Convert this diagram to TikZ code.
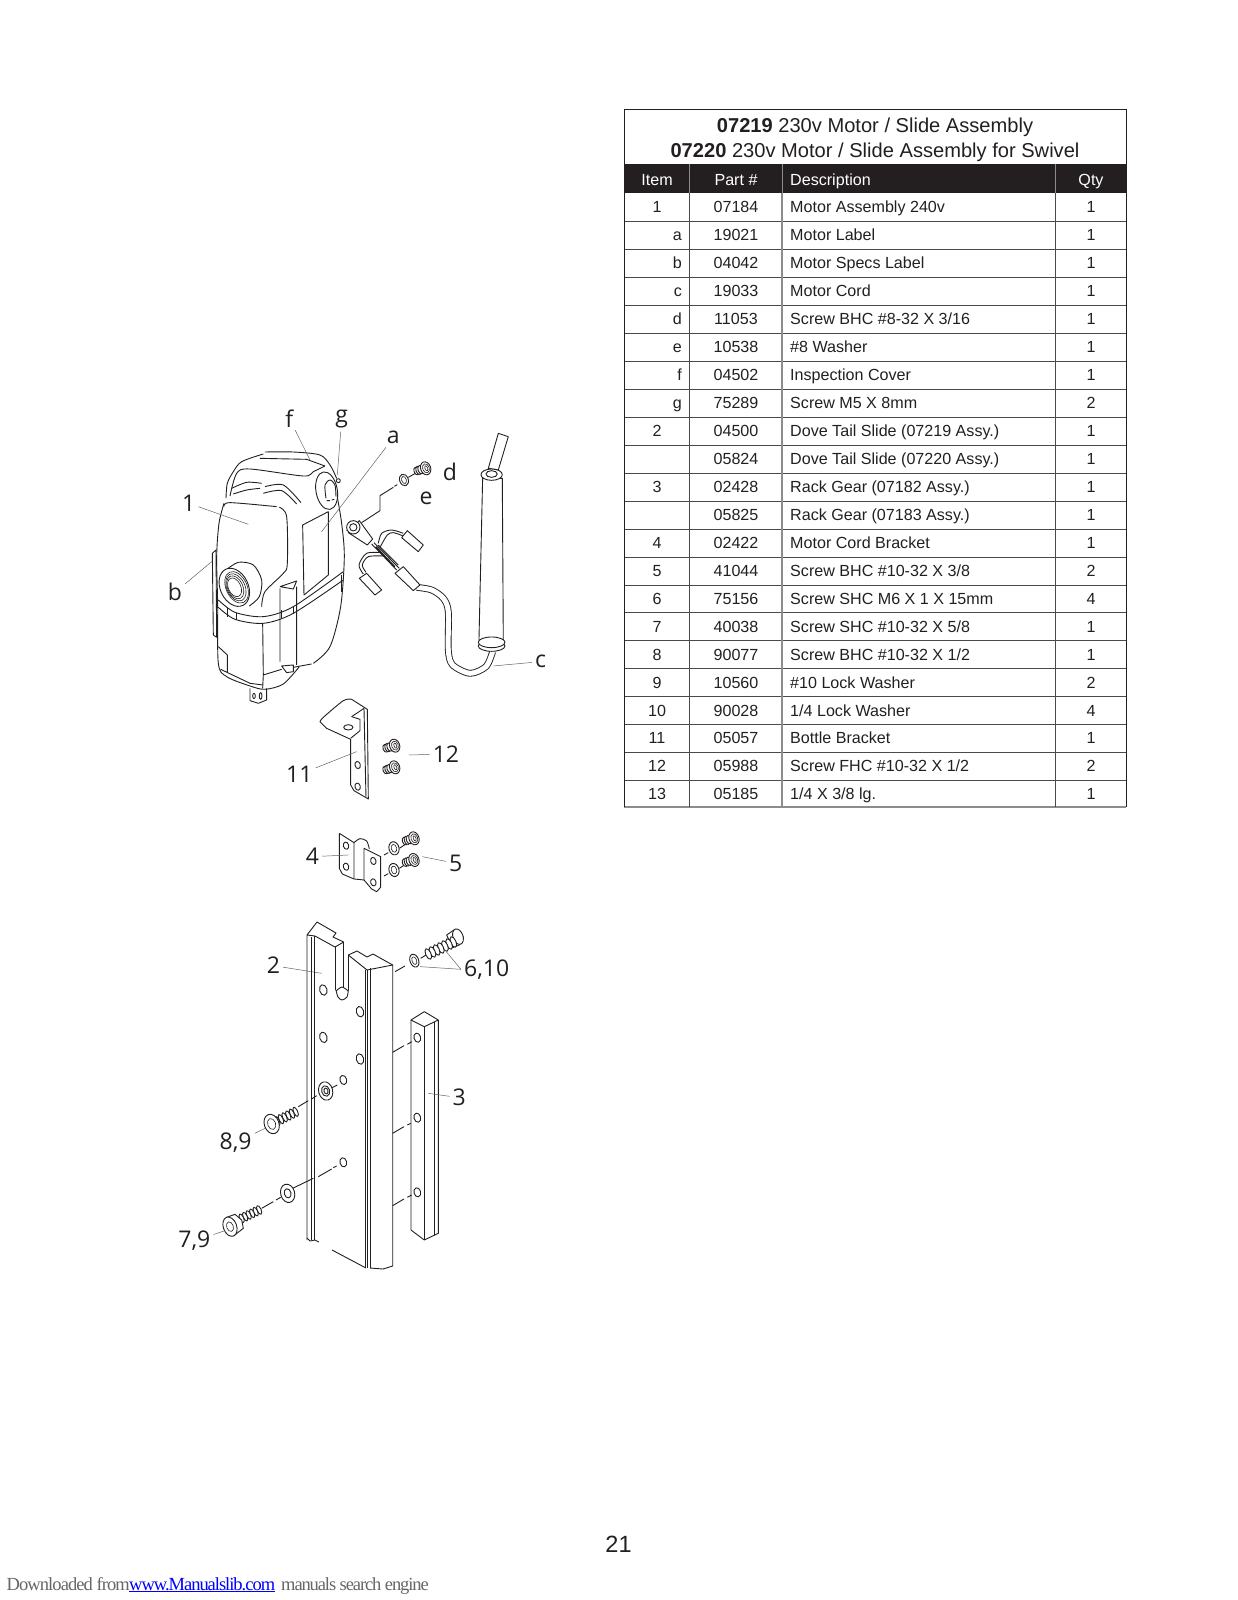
\documentclass[tikz,border=0pt]{standalone}
\usepackage{fontspec}
\setmainfont{Liberation Sans}
\newfontfamily\calloutfont{Open Sans}
\newfontfamily\footerfont[LetterSpace=-5.0]{Liberation Serif}
\newfontfamily\linkfont[LetterSpace=-5.5]{Liberation Serif}
\newfontfamily\enginefont[LetterSpace=-6.0]{Liberation Serif}
\definecolor{inkblack}{HTML}{231F20}
\definecolor{rowline}{HTML}{4A4A4A}
\definecolor{colline}{HTML}{8C8C8C}
\tikzset{
    part/.style = {line width=0.9pt, draw=inkblack, line join=round},
    thinpart/.style = {line width=0.6pt, draw=inkblack},
    leader/.style = {line width=0.5pt, draw=inkblack!70},
    gapline/.style = {line width=0.8pt, draw=inkblack, dash pattern=on 7pt off 2pt on 2pt off 2pt},
    callout/.style = {font=\calloutfont\fontsize{23}{23}\selectfont, text=inkblack, inner sep=3pt},
    cell/.style = {font=\fontsize{16.1}{18}\selectfont, text=inkblack, inner sep=0pt, anchor=base},
    headcell/.style = {font=\fontsize{16.1}{18}\selectfont, text=white, inner sep=0pt, anchor=base},
    titletext/.style = {font=\fontsize{20.1}{22}\selectfont, text=inkblack, inner sep=0pt, anchor=base},
    viewA/.style = {shift={(150,390)}, x=0.3333pt, y=-0.3333pt},
    viewB/.style = {shift={(260,680)}, x=0.3333pt, y=-0.3333pt},
    viewC/.style = {shift={(170,980)}, x=0.3333pt, y=-0.3333pt}
}
% one line of the parts list: row name, baseline, item, part, description, qty
\newcommand{\partrow}[6]{
    \node (#1item) [cell] at (657,#2) {#3};
    \node (#1part) [cell] at (736,#2) {#4};
    \node (#1desc) [cell, anchor=base west] at (790,#2) {#5};
    \node (#1qty) [cell] at (1091,#2) {#6};
}
\newcommand{\subrow}[6]{
    \node (#1item) [cell, anchor=base east] at (682,#2) {#3};
    \node (#1part) [cell] at (736,#2) {#4};
    \node (#1desc) [cell, anchor=base west] at (790,#2) {#5};
    \node (#1qty) [cell] at (1091,#2) {#6};
}
% small screw, head on the right
\newcommand{\smallscrew}[1]{
    \begin{scope}[shift={#1}]
    \draw[part, fill=white] (-20,8) ellipse [x radius=8, y radius=12, rotate=20];
    \draw[part, fill=white] (-14,6) ellipse [x radius=8, y radius=13, rotate=20];
    \draw[part, fill=white] (-8,4) ellipse [x radius=8, y radius=13, rotate=20];
    \draw[part, fill=white] (7,0) ellipse [x radius=15, y radius=20, rotate=20];
    \draw[thinpart] (8,0) ellipse [x radius=10, y radius=14, rotate=20];
    \draw[thinpart] (9,0) ellipse [x radius=4, y radius=8, rotate=20];
    \end{scope}
}
\begin{document}
\begin{tikzpicture}[x=1pt, y=-1pt]
\useasboundingbox (0,0) rectangle (1237,1600);

% parts list
\fill[inkblack] (624,164) rectangle (1126,193);
\node (titleA) [titletext] at (875,132) {\textbf{07219} 230v Motor / Slide Assembly};
\node (titleB) [titletext] at (875,157.5) {\textbf{07220} 230v Motor / Slide Assembly for Swivel};
\node (headItem) [headcell] at (657,185) {Item};
\node (headPart) [headcell] at (736,185) {Part \#};
\node (headDesc) [headcell, anchor=base west] at (790,185) {Description};
\node (headQty) [headcell] at (1091,185) {Qty};
\partrow{a}{212.5}{1}{07184}{Motor Assembly 240v}{1}
\subrow{b}{240.5}{a}{19021}{Motor Label}{1}
\subrow{c}{268.5}{b}{04042}{Motor Specs Label}{1}
\subrow{d}{296.5}{c}{19033}{Motor Cord}{1}
\subrow{e}{324.5}{d}{11053}{Screw BHC \#8-32 X 3/16}{1}
\subrow{f}{352.5}{e}{10538}{\#8 Washer}{1}
\subrow{g}{380.5}{f}{04502}{Inspection Cover}{1}
\subrow{h}{408.5}{g}{75289}{Screw M5 X 8mm}{2}
\partrow{i}{436.5}{2}{04500}{Dove Tail Slide (07219 Assy.)}{1}
\partrow{j}{464.5}{}{05824}{Dove Tail Slide (07220 Assy.)}{1}
\partrow{k}{492.5}{3}{02428}{Rack Gear (07182 Assy.)}{1}
\partrow{l}{520.5}{}{05825}{Rack Gear (07183 Assy.)}{1}
\partrow{m}{548.5}{4}{02422}{Motor Cord Bracket}{1}
\partrow{n}{576.5}{5}{41044}{Screw BHC \#10-32 X 3/8}{2}
\partrow{o}{604}{6}{75156}{Screw SHC M6 X 1 X 15mm}{4}
\partrow{p}{632}{7}{40038}{Screw SHC \#10-32 X 5/8}{1}
\partrow{q}{660}{8}{90077}{Screw BHC \#10-32 X 1/2}{1}
\partrow{r}{688}{9}{10560}{\#10 Lock Washer}{2}
\partrow{s}{716}{10}{90028}{1/4 Lock Washer}{4}
\partrow{t}{743.5}{11}{05057}{Bottle Bracket}{1}
\partrow{u}{771.5}{12}{05988}{Screw FHC \#10-32 X 1/2}{2}
\partrow{v}{799.5}{13}{05185}{1/4 X 3/8 lg.}{1}
\foreach \rowy in {221,249,277,305,333,361,389,417,445,473,501,529,557,585,612.5,640.5,668.5,696.5,724,752,780}
    \draw[rowline, line width=1pt] (624,\rowy) -- (1126,\rowy);
\draw[colline, line width=1.2pt] (624,807) -- (1126,807);
\draw[inkblack, line width=0.9pt] (624,109) -- (1126,109) -- (1126,807) (624,109) -- (624,807);
\draw[rowline, line width=1pt] (689.7,193) -- (689.7,807) (1055,193) -- (1055,807);
\draw[colline, line width=1.2pt] (782,193) -- (782,807);
\draw[colline, line width=0.5pt] (689.7,164) -- (689.7,193) (782,164) -- (782,193) (1055,164) -- (1055,193);

% motor
\begin{scope}[viewA]
\draw[part] plot[smooth] coordinates {(222,340) (207,400) (200,500) (203,640) (205,820) (230,860) (300,888) (345,898) (400,882) (448,830)};
\draw[part] plot[smooth] coordinates {(490,820) (540,770) (572,650) (583,500) (575,400) (560,310)};
\draw[part] plot[smooth] coordinates {(228,325) (232,280) (250,245) (275,215) (340,192)};
\draw[part] plot[smooth] coordinates {(345,186) (430,186) (510,195) (540,225) (560,265)};
\draw[part] plot[smooth] coordinates {(240,318) (260,250) (300,237) (460,258) (490,245) (525,228)};
\draw[part] (330,205) -- (470,208) -- (525,228);
\draw[part, fill=white] (530,302) ellipse [x radius=32, y radius=57, rotate=10];
\draw[part] plot[smooth] coordinates {(528,325) (525,285) (540,270) (555,285) (558,320)};
\draw[part] (530,332) -- (540,332) (545,330) -- (553,328);
\draw[part] (565,272) circle [radius=6];
\draw[part] plot[smooth] coordinates {(245,295) (290,277) (335,280)} plot[smooth] coordinates {(250,312) (290,300) (330,295)};
\draw[part] plot[smooth] coordinates {(345,290) (400,285) (453,338)} plot[smooth] coordinates {(340,310) (395,302) (440,342)};
\draw[part] plot[smooth] coordinates {(222,350) (240,338) (380,350)} plot[smooth] coordinates {(388,352) (410,380) (412,520) (400,550) (345,605) (335,650)};
\draw[part] (458,405) -- (535,365) -- (535,555) -- (462,615) -- cycle;
% port
\draw[part] plot[smooth] coordinates {(228,540) (265,517) (310,525) (335,570) (328,620) (298,648)};
\draw[part, fill=white] (253,592) ellipse [x radius=42, y radius=60, rotate=25];
\foreach \ringr in {22,27,32,37}
    \draw[thinpart] (\ringr*0.4+245,592) ellipse [x radius=\ringr*0.85, y radius=\ringr*1.35, rotate=25];
% band
\draw[part] plot[smooth] coordinates {(205,630) (255,667) (340,680) (430,650) (580,545)};
\draw[part] plot[smooth] coordinates {(205,652) (255,688) (340,700) (430,670) (580,570)};
\draw[thinpart] (232,655) -- (232,680) (260,668) -- (260,690) (395,660) -- (395,685) (430,650) -- (430,672) (575,555) -- (575,605);
% front rib and base
\draw[part] (338,700) -- (340,855) (390,595) -- (390,815) (440,590) -- (440,825);
\draw[part] (390,590) -- (440,573) -- (430,597) -- (390,590);
\draw[part] (395,828) -- (430,825) -- (430,845) -- (410,848) -- cycle;
\draw[part] (340,855) -- (395,838) (340,855) -- (338,895) (430,832) -- (485,822);
\draw[part] (205,770) -- (232,795) -- (232,848) (212,838) -- (300,880) -- (338,885);
% spec label
\draw[part] (187,490) -- (198,480) -- (200,742) -- (190,735) -- cycle;
% terminal block under the motor
\draw[part] (300,895) -- (300,932) -- (325,940) -- (350,930) -- (350,895);
\draw[part] (312,918) ellipse [x radius=4, y radius=8] (332,918) ellipse [x radius=4, y radius=10];
% cord
\draw[gapline] (590,422) -- (610,412);
\draw[part] (635,398) -- (690,362) -- (690,317) -- (730,292);
\draw[part] (733,289) -- (742,284);
\draw[part] (775,262) -- (800,248);
\draw[part, fill=white] (762,270) ellipse [x radius=13, y radius=18, rotate=20];
\draw[thinpart] (762,270) ellipse [x radius=7, y radius=11, rotate=20];
\smallscrew{(820,235)}
\draw[part, fill=white] (628,392) -- (668,447) -- (652,465) -- (595,428) -- cycle;
\draw[part, fill=white] (610,412) circle [radius=20];
\draw[part] (610,412) circle [radius=11];
\draw[part] (665,462) -- (740,540) (672,458) -- (748,535) (678,470) -- (735,530) (685,465) -- (745,525);
\draw[part] plot[smooth] coordinates {(685,460) (695,430) (725,420) (760,430)};
\draw[part] plot[smooth] coordinates {(690,472) (712,435) (730,428) (760,438)};
\draw[part, fill=white] (772,422) -- (820,465) -- (805,485) -- (755,443) -- cycle;
\draw[part] plot[smooth] coordinates {(695,488) (650,490) (627,525) (640,552)};
\draw[part] plot[smooth] coordinates {(702,498) (655,500) (637,525) (648,547)};
\draw[part, fill=white] (650,550) -- (695,600) -- (675,615) -- (628,565) -- cycle;
\draw[part, double=white, double distance=5pt, line width=0.9pt] plot[smooth] coordinates {(800,592) (845,600) (880,625) (895,665) (895,780) (908,825) (960,850) (1008,830) (1028,785)};
\draw[part, fill=white] (735,550) -- (760,530) -- (810,585) -- (790,602) -- cycle;
\draw[part, fill=white] (998,265) -- (987,750) -- (1060,750) -- (1057,265) -- cycle;
\draw[part, fill=white] (1025,768) ellipse [x radius=40, y radius=16];
\draw[part, fill=white] (1025,757) ellipse [x radius=40, y radius=16];
\draw[part, fill=white] (1015,235) -- (1045,130) -- (1075,140) -- (1045,240) -- cycle;
\draw[part, fill=white] (1025,254) ellipse [x radius=32, y radius=17];
\draw[part, fill=white] (1025,252) ellipse [x radius=17, y radius=10];
\node (lblF) [callout] at (418,85) {f};
\node (lblG) [callout] at (575,88) {g};
\node (lblA) [callout] at (730,143) {a};
\node (lblOne) [callout] at (116,340) {1};
\node (lblB) [callout] at (75,607) {b};
\node (lblD) [callout] at (900,247) {d};
\node (lblE) [callout] at (828,325) {e};
\node (lblC) [callout] at (1172,815) {c};
\coordinate (tipF) at (480,210);
\coordinate (tipG) at (562,255);
\coordinate (tipA) at (515,425);
\coordinate (tipOne) at (295,403);
\coordinate (tipB) at (185,515);
\coordinate (tipC) at (1030,828);
\draw[leader] (lblF) -- (tipF);
\draw[leader] (lblG) -- (tipG);
\draw[leader] (lblA) -- (tipA);
\draw[leader] (lblOne) -- (tipOne);
\draw[leader] (lblB) -- (tipB);
\draw[leader] (lblC) -- (tipC);
\end{scope}

% brackets and their screws
\begin{scope}[viewB]
\draw[part] plot[smooth] coordinates {(180,125) (190,112) (250,62) (275,58)} -- (322,88) -- (325,357) -- (282,332) -- (272,315) -- (272,178) -- (200,145) -- (180,125);
\draw[part] (275,110) -- (312,85) -- (318,352);
\draw[part] (272,175) -- (300,152) -- (300,118) -- (275,110);
\draw[part] (265,142) ellipse [x radius=14, y radius=8];
\draw[part] (293,255) ellipse [x radius=8, y radius=11, rotate=15];
\draw[part] (293,320) ellipse [x radius=8, y radius=11, rotate=15];
\smallscrew{(397,197)}
\smallscrew{(397,262)}
\node (lblEleven) [callout] at (118,283) {11};
\node (lblTwelve) [callout] at (558,222) {12};
\coordinate (tipEleven) at (290,215);
\coordinate (tipTwelve) at (447,225);
\draw[leader] (lblEleven) -- (tipEleven);
\draw[leader] (lblTwelve) -- (tipTwelve);
% cord bracket
\draw[part] (238,460) -- (282,488) (238,460) -- (238,565) -- (247,582) -- (282,597) -- (312,600);
\draw[part] plot[smooth] coordinates {(282,488) (300,476) (320,483) (328,507)};
\draw[part] (282,488) -- (282,597) (312,505) -- (362,530) -- (362,622) -- (350,635) -- (335,627) -- (312,600) -- cycle;
\draw[part] (258,497) ellipse [x radius=8, y radius=11, rotate=15];
\draw[part] (258,560) ellipse [x radius=8, y radius=11, rotate=15];
\draw[part] (340,543) ellipse [x radius=8, y radius=11, rotate=15];
\draw[part] (340,607) ellipse [x radius=8, y radius=11, rotate=15];
\draw[part] (372,525) -- (385,518) (372,588) -- (385,581) (418,505) -- (438,492) (418,565) -- (438,552);
\draw[part, fill=white] (402,505) ellipse [x radius=15, y radius=20, rotate=15];
\draw[thinpart] (402,505) ellipse [x radius=8, y radius=12, rotate=15];
\draw[part, fill=white] (402,570) ellipse [x radius=15, y radius=20, rotate=15];
\draw[thinpart] (402,570) ellipse [x radius=8, y radius=12, rotate=15];
\smallscrew{(455,475)}
\smallscrew{(455,540)}
\node (lblFour) [callout] at (157,530) {4};
\node (lblFive) [callout] at (587,550) {5};
\coordinate (tipFour) at (265,525);
\coordinate (tipFive) at (487,530);
\draw[leader] (lblFour) -- (tipFour);
\draw[leader] (lblFive) -- (tipFive);
% bolt at the top of the slide
\draw[part] (405,875) -- (435,858) (482,835) -- (498,825);
\draw[part, fill=white] (463,842) ellipse [x radius=13, y radius=20, rotate=20];
\draw[thinpart] (463,842) ellipse [x radius=7, y radius=12, rotate=20];
\draw[part, fill=white] (560,765) -- (585,748) -- (610,770) -- (598,795) -- (578,803) -- cycle;
\draw[part, fill=white] (594,770) ellipse [x radius=15, y radius=24, rotate=20];
\foreach \k in {6,...,0}
    \draw[part, fill=white] (505+\k*12.5,822-\k*6) ellipse [x radius=8, y radius=17, rotate=24];
\node (lblSixTen) [callout] at (680,868) {6,10};
\coordinate (tipBolt) at (553,808);
\coordinate (tipWasher) at (480,860);
\draw[leader] (lblSixTen.west) -- (tipBolt);
\draw[leader] (lblSixTen.west) -- (tipWasher);
\node (lblTwo) [callout] at (40,857) {2};
\coordinate (tipTwo) at (185,880);
\draw[leader] (lblTwo) -- (tipTwo);
\end{scope}

% slide, upper and lower ends
\draw[part] (307,1240) -- (307,935) -- (317,922) -- (336,933) -- (333,937) -- (343.7,942) -- (335,947) -- (315,936) -- (307,935);
\draw[part] (311.7,937) -- (311.7,1240) (314.3,936) -- (314.3,1240);
\draw[part] (335,947) -- (335,990) (343.7,942) -- (343.7,987) (348.3,955) -- (348.3,990);
\draw[part] plot[smooth] coordinates {(336,990) (338,997) (342,1000) (347,997) (348.3,990)};
\draw[part] plot[smooth] coordinates {(336,991) (342,987) (348.3,991)};
\draw[part] (348.3,955) -- (357,951) -- (367,957) -- (373,954) -- (392.7,965) -- (392.7,1266) -- (383,1269) -- (370,1268);
\draw[part] (348.3,955) -- (367,970) -- (392.7,965);
\draw[part] (365.7,970) -- (365.7,1268) (367.7,970) -- (367.7,1268) (370,968) -- (370,1268);
\draw[part] (307,1238) -- (310,1241) -- (315,1240) -- (319,1242) (332,1250) -- (366,1268);
\begin{scope}[viewC]
\foreach \hx/\hy in {460/30, 570/95, 460/172, 570/237}
    \draw[part] (\hx,\hy) ellipse [x radius=11, y radius=16, rotate=15];
\draw[part] (520,300) ellipse [x radius=10, y radius=14, rotate=15];
\draw[part] (520,547) ellipse [x radius=10, y radius=14, rotate=15];
\draw[part] (482,325) -- (502,315) (385,380) -- (415,362) (425,357) -- (440,347);
\draw[part, fill=white] (467,333) ellipse [x radius=21, y radius=28, rotate=15];
\draw[part] (467,333) ellipse [x radius=12, y radius=16, rotate=15];
\draw[part] (468,333) ellipse [x radius=6, y radius=9, rotate=15];
\foreach \k in {5,...,0}
    \draw[part, fill=white] (322+\k*11,423-\k*5.5) ellipse [x radius=6, y radius=15, rotate=24];
\draw[part, fill=white] (305,432) ellipse [x radius=22, y radius=30, rotate=20];
\draw[thinpart] (305,432) ellipse [x radius=12, y radius=17, rotate=20];
\draw[part] (368,625) -- (430,595) (445,590) -- (485,567) (490,563) -- (500,558);
\draw[part] (275,685) -- (310,665) (318,660) -- (332,652);
\draw[part, fill=white] (353,640) ellipse [x radius=21, y radius=28, rotate=15];
\draw[part] (353,640) ellipse [x radius=10, y radius=14, rotate=15];
\foreach \k in {5,...,0}
    \draw[part, fill=white] (215+\k*10.5,715-\k*5) ellipse [x radius=6, y radius=14, rotate=24];
\draw[part, fill=white] (170,712) -- (195,703) -- (215,720) -- (220,745) -- (192,767) -- cycle;
\draw[part, fill=white] (180,740) ellipse [x radius=20, y radius=30, rotate=20];
\draw[thinpart] (180,740) ellipse [x radius=10, y radius=15, rotate=20];
\node (lblEightNine) [callout] at (197,488) {8,9};
\node (lblSevenNine) [callout] at (73,783) {7,9};
\coordinate (tipEightNine) at (285,445);
\coordinate (tipSevenNine) at (165,752);
\draw[leader] (lblEightNine) -- (tipEightNine);
\draw[leader] (lblSevenNine) -- (tipSevenNine);
% rack gear
\draw[part] (723,120) -- (763,95) -- (805,120) -- (763,140) -- cycle;
\draw[part] (723,120) -- (723,750) -- (763,780) -- (805,760) -- (805,120);
\draw[part] (763,140) -- (763,780) (792,127) -- (792,766);
\foreach \hy in {173,413,637}
    \draw[part] (742,\hy) ellipse [x radius=10, y radius=14, rotate=15];
\draw[part] (668,217) -- (702,197) (712,193) -- (725,185);
\draw[part] (668,460) -- (702,440) (712,435) -- (722,430);
\draw[part] (668,677) -- (702,657) (712,652) -- (725,645);
\node (lblThree) [callout] at (868,353) {3};
\coordinate (tipThree) at (775,340);
\draw[leader] (lblThree) -- (tipThree);
\end{scope}

% page number and footer
\node (pageNum) [font=\fontsize{23.5}{24}\selectfont, text=inkblack, inner sep=0pt] at (618.5,1544) {21};
\node (footA) [font=\footerfont\fontsize{18.5}{19}\selectfont, text=black!60, inner sep=0pt, anchor=base west] at (6.5,1590) {Downloaded from};
\node (footB) [font=\linkfont\fontsize{18.5}{19}\selectfont, text=blue, inner sep=0pt, anchor=base west] at (129,1590) {\underline{www.Manualslib.com}};
\node (footC) [font=\enginefont\fontsize{18.5}{19}\selectfont, text=black!60, inner sep=0pt, anchor=base west] at (281,1590) {manuals search engine};
\end{tikzpicture}
\end{document}
